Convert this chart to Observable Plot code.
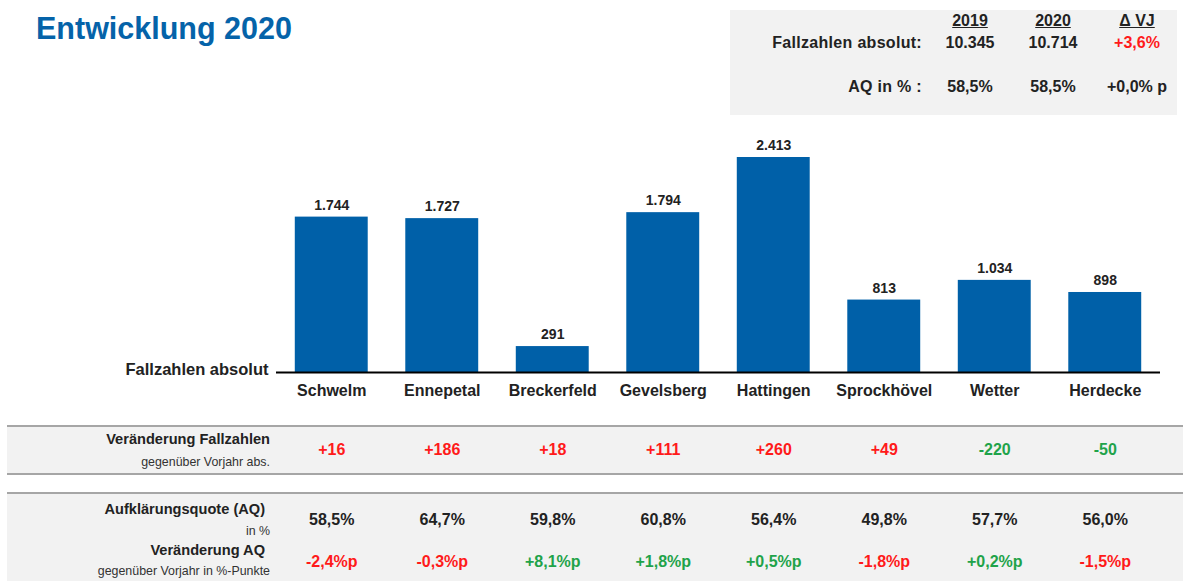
<!DOCTYPE html>
<html>
<head>
<meta charset="utf-8">
<script src="https://cdn.jsdelivr.net/npm/d3@7"></script>
<script src="https://cdn.jsdelivr.net/npm/@observablehq/plot@0.6"></script>
<style>
  html, body { margin: 0; padding: 0; background: #fff; }
  body { font-family: "Liberation Sans", Arial, sans-serif; color: #222; }
  #wrap { position: relative; width: 1183px; height: 581px; overflow: hidden; }
  .abs { position: absolute; }
  .title { left: 36px; top: 11px; font-size: 30.5px; font-weight: bold; color: #0563a9; }
  .box { left: 730px; top: 10px; width: 447px; height: 105px; background: #f2f2f2; }
  .band { left: 7px; right: 0; background: #f2f2f2; border-top: 2px solid #a6a6a6; }
  .lbl { right: 913px; text-align: right; white-space: nowrap; transform: translateY(-50%); }
  .b13 { font-size: 14.6px; font-weight: bold; }
  .s11 { font-size: 12.4px; color: #333; }
  .hdr { font-size: 16px; font-weight: bold; white-space: nowrap; transform: translate(-50%, -50%); }
  .hr { font-size: 16px; font-weight: bold; white-space: nowrap; text-align: right; transform: translateY(-50%); right: 261px; letter-spacing: 0.3px; }
  #plot { position: absolute; left: 0; top: 0; }
</style>
</head>
<body>
<div id="wrap">
  <div class="abs title">Entwicklung 2020</div>
  <div class="abs box"></div>
  <div class="abs band" style="top:425px;height:46px;border-bottom:2px solid #a6a6a6;"></div>
  <div class="abs band" style="top:492px;height:95px;"></div>
  <div id="summary"></div>
  <div class="abs lbl b13" style="top:439px;">Veränderung Fallzahlen</div>
  <div class="abs lbl s11" style="top:462px;">gegenüber Vorjahr abs.</div>
  <div class="abs lbl b13" style="top:509px;right:918px;">Aufklärungsquote (AQ)</div>
  <div class="abs lbl s11" style="top:531px;">in %</div>
  <div class="abs lbl b13" style="top:550px;right:918px;">Veränderung AQ</div>
  <div class="abs lbl s11" style="top:571px;">gegenüber Vorjahr in %-Punkte</div>
  <div id="plot"></div>
</div>
<script>
const cities = ["Schwelm", "Ennepetal", "Breckerfeld", "Gevelsberg", "Hattingen", "Sprockhövel", "Wetter", "Herdecke"];
const cases = [1744, 1727, 291, 1794, 2413, 813, 1034, 898];
const caseChange = [16, 186, 18, 111, 260, 49, -220, -50];
const aq = [58.5, 64.7, 59.8, 60.8, 56.4, 49.8, 57.7, 56.0];
const aqChange = [-2.4, -0.3, 8.1, 1.8, 0.5, -1.8, 0.2, -1.5];

const summaryYears = ["2019", "2020", "\u0394 VJ"];
const summaryCases = ["10.345", "10.714", "+3,6%"];
const summaryAQ = ["58,5%", "58,5%", "+0,0% p"];

const de = d3.formatLocale({decimal: ",", thousands: ".", grouping: [3], currency: ["", " €"]});
const fInt = de.format(",d");
const fPct = de.format(".1f");
const sign = v => (v >= 0 ? "+" : "-");
const RED = "#ff1a1a", GREEN = "#1fa34a";

const data = cities.map((c, i) => ({
  city: c, cases: cases[i], caseChange: caseChange[i], aq: aq[i], aqChange: aqChange[i]
}));

// summary box
const sx = [970, 1053, 1137];
const summary = document.getElementById("summary");
let html = "";
summaryYears.forEach((t, i) => {
  html += `<div class="abs hdr" style="left:${sx[i]}px;top:21px;text-decoration:underline;">${t}</div>`;
  html += `<div class="abs hdr" style="left:${sx[i]}px;top:43px;${i === 2 ? "color:" + RED + ";" : ""}">${summaryCases[i]}</div>`;
  html += `<div class="abs hdr" style="left:${sx[i]}px;top:87px;">${summaryAQ[i]}</div>`;
});
html += `<div class="abs hr" style="top:43px;">Fallzahlen absolut:</div>`;
html += `<div class="abs hr" style="top:87px;">AQ in % :</div>`;
summary.innerHTML = html;

const chart = Plot.plot({
  width: 1183,
  height: 581,
  margin: 0,
  style: {background: "transparent", fontFamily: "Liberation Sans, Arial, sans-serif", overflow: "visible"},
  x: {domain: cities, range: [276, 1160], paddingInner: 0.34, paddingOuter: 0.17, round: false, axis: null},
  y: {domain: [0, 2413], range: [372, 157], axis: null},
  color: {type: "identity"},
  marks: [
    Plot.barY(data, {x: "city", y: "cases", fill: "#0060a8"}),
    Plot.ruleY([0], {stroke: "#000", strokeWidth: 2.2, insetLeft: 276, insetRight: 23}),
    Plot.text(data, {x: "city", y: "cases", text: d => fInt(d.cases), dy: -12, fontSize: 14, fontWeight: "bold", fill: "#222"}),
    Plot.text(["Fallzahlen absolut"], {frameAnchor: "top-left", text: d => d, dx: 268, dy: 369, textAnchor: "end", lineAnchor: "middle", fontSize: 16.5, fontWeight: "bold", fill: "#222"}),
    Plot.text(data, {x: "city", frameAnchor: "top", text: "city", dy: 390, lineAnchor: "middle", fontSize: 16, fontWeight: "bold", fill: "#222"}),
    Plot.text(data, {x: "city", frameAnchor: "top", text: d => sign(d.caseChange) + fInt(Math.abs(d.caseChange)), dy: 449, lineAnchor: "middle", fontSize: 16, fontWeight: "bold", fill: d => d.caseChange > 0 ? RED : GREEN}),
    Plot.text(data, {x: "city", frameAnchor: "top", text: d => fPct(d.aq) + "%", dy: 519, lineAnchor: "middle", fontSize: 16, fontWeight: "bold", fill: "#222"}),
    Plot.text(data, {x: "city", frameAnchor: "top", text: d => sign(d.aqChange) + fPct(Math.abs(d.aqChange)) + "%p", dy: 561, lineAnchor: "middle", fontSize: 16, fontWeight: "bold", fill: d => d.aqChange > 0 ? GREEN : RED})
  ]
});
document.getElementById("plot").appendChild(chart);
</script>
</body>
</html>
